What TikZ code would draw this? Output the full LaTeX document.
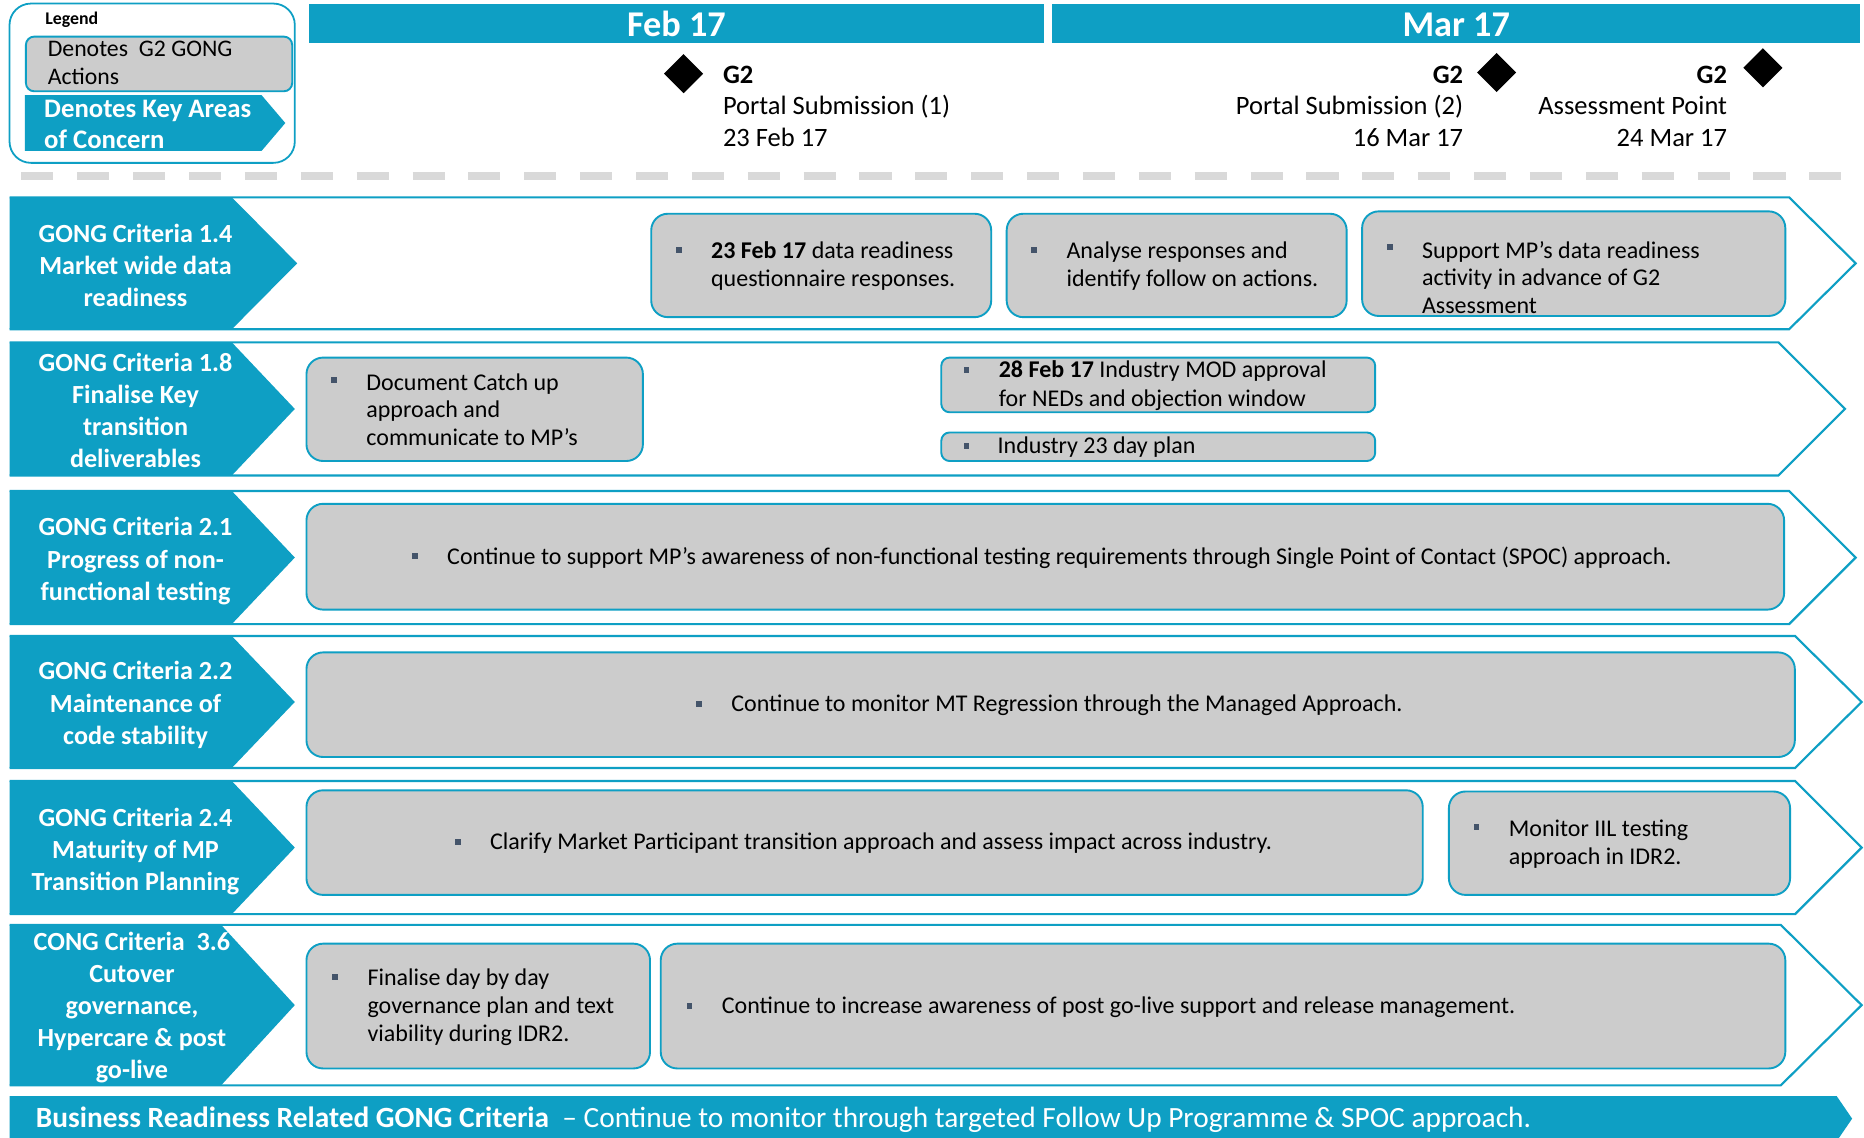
\documentclass[tikz,border=0pt]{standalone}
\usepackage{fontspec}
\setmainfont{Carlito}
\usetikzlibrary{shapes.geometric}
\definecolor{cblue}{RGB}{14,159,196}
\definecolor{cgray}{RGB}{204,204,204}
\definecolor{cbul}{RGB}{68,84,106}
\definecolor{cdash}{RGB}{217,217,217}
\begin{document}
\begin{tikzpicture}[x=1pt,y=-1pt,
  band/.style={draw=cblue,line width=1.8pt,fill=white,line join=miter},
  bluelab/.style={fill=cblue},
  gbox/.style={draw=cblue,line width=1.6pt,fill=cgray,rounded corners=14pt,inner sep=0pt,anchor=north west},
  sgbox/.style={gbox,rounded corners=7pt},
  bul/.style={fill=cbul,minimum size=5pt,inner sep=0pt},
  btxt/.style={anchor=west,align=left,inner sep=0pt,font=\fontsize{20.2}{23.5}\selectfont},
  crit/.style={align=center,inner sep=0pt,text=white,font=\fontsize{22}{27}\selectfont\bfseries},
  mtxt/.style={inner sep=0pt,font=\fontsize{22.3}{26.5}\selectfont},
  hdr/.style={fill=cblue},
  hdrtxt/.style={text=white,inner sep=0pt,font=\fontsize{30.5}{32}\selectfont\bfseries},
  ms/.style={diamond,fill=black,minimum size=33pt,inner sep=0pt}]
\useasboundingbox (0,0) rectangle (1568,957);

% ---------- legend ----------
\draw[draw=cblue,line width=1.5pt,fill=white,rounded corners=18pt] (8,3) rectangle (248,137);
\node[anchor=west,inner sep=0pt,font=\fontsize{15}{18}\selectfont\bfseries] (leg) at (38,17) {Legend};
\node[sgbox,minimum width=224pt,minimum height=46pt] (lgray) at (21,30) {};
\node[anchor=west,align=left,inner sep=0pt,font=\fontsize{20}{23}\selectfont] (lgtxt) at (40,53) {Denotes~ G2 GONG\\Actions};
\fill[cblue] (21,80) -- (220,80) -- (240,103.5) -- (220,127) -- (21,127) -- cycle;
\node[anchor=west,align=left,inner sep=0pt,text=white,font=\fontsize{22.5}{26}\selectfont\bfseries] (lbtxt) at (37,104.5) {Denotes Key Areas\\of Concern};

% ---------- header ----------
\fill[hdr] (260,3) rectangle (878,36);
\fill[hdr] (885,3) rectangle (1565,36);
\node[hdrtxt] (feb) at (569,20.5) {Feb 17};
\node[hdrtxt] (mar) at (1225,20.5) {Mar 17};

% ---------- milestones ----------
\node[ms] (d1) at (575,62) {};
\node[ms] (d2) at (1259,61) {};
\node[ms] (d3) at (1483,57) {};
\node[mtxt,anchor=west,align=left] (m1) at (608,89.5) {\textbf{G2}\\Portal Submission (1)\\23 Feb 17};
\node[mtxt,anchor=east,align=right] (m2) at (1231,89.5) {\textbf{G2}\\Portal Submission (2)\\16 Mar 17};
\node[mtxt,anchor=east,align=right] (m3) at (1453,89.5) {\textbf{G2}\\Assessment Point\\24 Mar 17};

\draw[cdash,line width=6pt,dash pattern=on 27pt off 20pt] (18,148) -- (1555,148);

% ---------- row bands ----------
\draw[band] (8,166) -- (1505,166) -- (1561,221.5) -- (1505,277) -- (8,277);
\fill[bluelab] (8,166) -- (195,166) -- (250,221.5) -- (195,277) -- (8,277) -- cycle;
\draw[band] (8,288) -- (1496,288) -- (1552,344) -- (1496,400) -- (8,400);
\fill[bluelab] (8,288) -- (195,288) -- (248,344) -- (195,400) -- (8,400) -- cycle;
\draw[band] (8,413) -- (1505,413) -- (1561,469) -- (1505,525) -- (8,525);
\fill[bluelab] (8,413) -- (195,413) -- (248,469) -- (195,525) -- (8,525) -- cycle;
\draw[band] (8,535) -- (1510,535) -- (1566,590.5) -- (1510,646) -- (8,646);
\fill[bluelab] (8,535) -- (195,535) -- (248,590.5) -- (195,646) -- (8,646) -- cycle;
\draw[band] (8,657) -- (1510,657) -- (1566,713) -- (1510,769) -- (8,769);
\fill[bluelab] (8,657) -- (195,657) -- (248,713) -- (195,769) -- (8,769) -- cycle;
\draw[band] (8,778) -- (1498,778) -- (1566,845.5) -- (1498,913) -- (8,913);
\fill[bluelab] (8,778) -- (186,778) -- (248,845.5) -- (186,913) -- (8,913) -- cycle;

\node[crit] (c1) at (114,223) {GONG Criteria 1.4\\Market wide data\\readiness};
\node[crit] (c2) at (114,345.5) {GONG Criteria 1.8\\Finalise Key\\transition\\deliverables};
\node[crit] (c3) at (114,472) {GONG Criteria 2.1\\Progress of non-\\functional testing};
\node[crit] (c4) at (114,593) {GONG Criteria 2.2\\Maintenance of\\code stability};
\node[crit] (c5) at (114,716.5) {GONG Criteria 2.4\\Maturity of MP\\Transition Planning};
\node[crit] (c6) at (111,847.5) {CONG Criteria~ 3.6\\Cutover\\governance,\\Hypercare \& post\\go-live};

% ---------- gray boxes ----------
\node[gbox,minimum width=286pt,minimum height=87pt] (b1) at (547,179) {};
\node[gbox,minimum width=286pt,minimum height=87pt] (b2) at (846,179) {};
\node[gbox,minimum width=356pt,minimum height=88pt] (b3) at (1145,177) {};
\node[gbox,minimum width=283pt,minimum height=87pt] (b4) at (257,300) {};
\node[sgbox,minimum width=365pt,minimum height=46pt] (b5) at (791,300) {};
\node[sgbox,minimum width=365pt,minimum height=24pt] (b6) at (791,363) {};
\node[gbox,minimum width=1243pt,minimum height=89pt] (b7) at (257,423) {};
\node[gbox,minimum width=1252pt,minimum height=88pt] (b8) at (257,548) {};
\node[gbox,minimum width=939pt,minimum height=88pt] (b9) at (257,664) {};
\node[gbox,minimum width=287pt,minimum height=87pt] (b10) at (1218,665) {};
\node[gbox,minimum width=289pt,minimum height=105pt] (b11) at (257,793) {};
\node[gbox,minimum width=946pt,minimum height=105pt] (b12) at (555,793) {};

\node[bul] (u1) at (571,210) {};
\node[bul] (u2) at (870,210) {};
\node[bul] (u3) at (1169,208) {};
\node[bul] (u4) at (281,320) {};
\node[bul] (u5) at (813,311) {};
\node[bul] (u6) at (813,375) {};
\node[bul] (u7) at (349,468) {};
\node[bul] (u8) at (588,592) {};
\node[bul] (u9) at (385,708) {};
\node[bul] (u10) at (1242,696) {};
\node[bul] (u11) at (282,822) {};
\node[bul] (u12) at (580,846) {};

\node[btxt] (t1) at (598,223.5) {\textbf{23 Feb 17} data readiness\\questionnaire responses.};
\node[btxt] (t2) at (897,223.5) {Analyse responses and\\identify follow on actions.};
\node[btxt,font=\fontsize{20.2}{23}\selectfont] (t3) at (1196,233.5) {Support MP’s data readiness\\activity in advance of G2\\Assessment};
\node[btxt,font=\fontsize{20.2}{23}\selectfont] (t4) at (308,344.5) {Document Catch up\\approach and\\communicate to MP’s};
\node[btxt,font=\fontsize{20.2}{24}\selectfont] (t5) at (840,324.5) {\textbf{28 Feb 17} Industry MOD approval\\for NEDs and objection window};
\node[btxt] (t6) at (839,376.5) {Industry 23 day plan};
\node[btxt] (t7) at (376,469.5) {Continue to support MP’s awareness of non-functional testing requirements through Single Point of Contact (SPOC) approach.};
\node[btxt] (t8) at (615,593.5) {Continue to monitor MT Regression through the Managed Approach.};
\node[btxt] (t9) at (412,709.5) {Clarify Market Participant transition approach and assess impact across industry.};
\node[btxt] (t10) at (1269,710) {Monitor IIL testing\\approach in IDR2.};
\node[btxt] (t11) at (309,847) {Finalise day by day\\governance plan and text\\viability during IDR2.};
\node[btxt] (t12) at (607,847.5) {Continue to increase awareness of post go-live support and release management.};

% ---------- bottom banner ----------
\fill[cblue] (8,922) -- (1545,922) -- (1558,941) -- (1545,960) -- (8,960) -- cycle;
\node[anchor=west,inner sep=0pt,text=white,font=\fontsize{24.7}{27}\selectfont] (ban) at (30,942) {\textbf{Business Readiness Related GONG Criteria}~ – Continue to monitor through targeted Follow Up Programme \& SPOC approach.};
\end{tikzpicture}
\end{document}
